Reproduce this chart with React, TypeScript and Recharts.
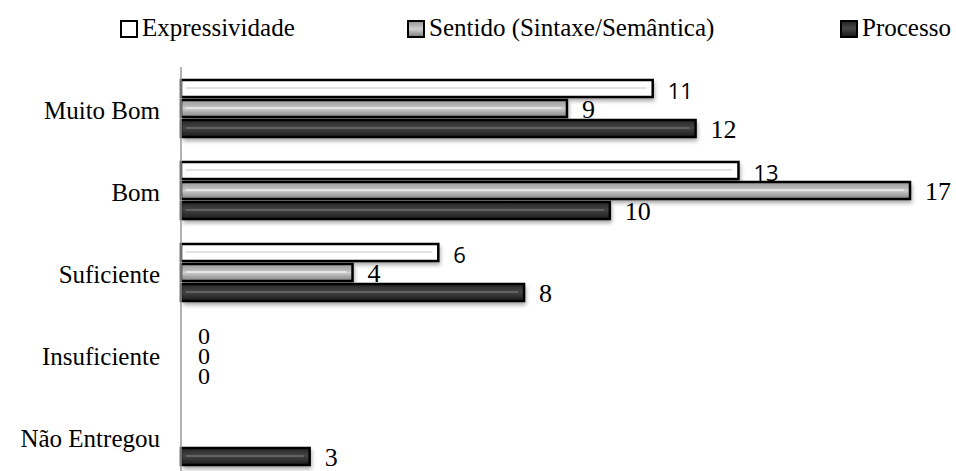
import React from 'react';
import { BarChart, Bar, XAxis, YAxis, Legend, LabelList } from 'recharts';

const categories = ['Muito Bom', 'Bom', 'Suficiente', 'Insuficiente', 'Não Entregou'];
const expressividade: (number | null)[] = [11, 13, 6, 0, null];
const sentido: (number | null)[] = [9, 17, 4, 0, null];
const processo: (number | null)[] = [12, 10, 8, 0, 3];
const seriesNames = ['Expressividade', 'Sentido (Sintaxe/Semântica)', 'Processo'];
const xDomain = [0, 17];

const data = categories.map((name, i) => ({
  name,
  exp: expressividade[i],
  sen: sentido[i],
  pro: processo[i],
}));

const SERIF = '"Liberation Serif", "Times New Roman", serif';
const SANS = '"Open Sans", "Liberation Sans", sans-serif';

type Kind = 'exp' | 'sen' | 'pro';

const Defs = () => (
  <defs>
    <linearGradient id="gSen" x1="0" y1="0" x2="0" y2="1">
      <stop offset="0%" stopColor="#9a9a9a" />
      <stop offset="35%" stopColor="#b8b8b8" />
      <stop offset="50%" stopColor="#cfcfcf" />
      <stop offset="70%" stopColor="#adadad" />
      <stop offset="100%" stopColor="#858585" />
    </linearGradient>
    <linearGradient id="gPro" x1="0" y1="0" x2="0" y2="1">
      <stop offset="0%" stopColor="#262626" />
      <stop offset="45%" stopColor="#444444" />
      <stop offset="100%" stopColor="#1c1c1c" />
    </linearGradient>
    <filter id="fShadow" x="-10%" y="-50%" width="130%" height="250%">
      <feGaussianBlur stdDeviation="2" />
    </filter>
  </defs>
);

const fills: Record<Kind, string> = { exp: '#ffffff', sen: 'url(#gSen)', pro: 'url(#gPro)' };
const lines: Record<Kind, string> = { exp: '#d9d9d9', sen: '#eeeeee', pro: '#6e6e6e' };

const makeShape = (kind: Kind) => (props: any) => {
  const { x, y, width, height } = props;
  if (!width || width <= 0) return <g />;
  return (
    <g>
      <Defs />
      <rect x={x + 2} y={y + 3} width={width} height={height} fill="rgba(0,0,0,0.35)" filter="url(#fShadow)" />
      <rect x={x} y={y + 1} width={width} height={height - 2} fill={fills[kind]} stroke="#000" strokeWidth={2.5} />
      <line
        x1={x + 5}
        x2={x + width - 6}
        y1={y + height * 0.47}
        y2={y + height * 0.47}
        stroke={lines[kind]}
        strokeWidth={1.5}
      />
    </g>
  );
};

const makeLabel = (kind: Kind) => (props: any) => {
  const { x, y, width, height, value } = props;
  if (value === null || value === undefined) return null;
  const isZero = value === 0;
  const fam = kind === 'exp' && !isZero ? SANS : SERIF;
  const size = isZero ? 24 : kind === 'exp' ? 22 : 26;
  return (
    <text
      x={x + width + (isZero ? 17 : 15)}
      y={y + height / 2 + 1}
      dominantBaseline="central"
      fontFamily={fam}
      fontSize={size}
      fill="#000"
    >
      {value}
    </text>
  );
};

const CatTick = (props: any) => {
  const { y, payload } = props;
  return (
    <text x={160} y={y + 2} textAnchor="end" dominantBaseline="central" fontFamily={SERIF} fontSize={25} fill="#000">
      {payload.value}
    </text>
  );
};

const legendItems: { kind: Kind; sq: number; name: string }[] = [
  { kind: 'exp', sq: 120, name: seriesNames[0] },
  { kind: 'sen', sq: 407, name: seriesNames[1] },
  { kind: 'pro', sq: 840, name: seriesNames[2] },
];

const sqBg: Record<Kind, string> = {
  exp: '#ffffff',
  sen: 'linear-gradient(#9a9a9a, #cfcfcf 50%, #858585)',
  pro: 'linear-gradient(#262626, #484848 45%, #1c1c1c)',
};

const LegendContent = () => (
  <div style={{ position: 'relative', width: 956, height: 67 }}>
    {legendItems.map((it) => (
      <React.Fragment key={it.kind}>
        <div
          style={{
            position: 'absolute',
            left: it.sq,
            top: 20,
            width: 14,
            height: 14,
            border: '2px solid #000',
            background: sqBg[it.kind],
          }}
        />
        <div
          style={{
            position: 'absolute',
            left: it.sq + 22,
            top: 13,
            fontFamily: SERIF,
            fontSize: 25,
            lineHeight: '30px',
            whiteSpace: 'nowrap',
            color: '#000',
          }}
        >
          {it.name}
        </div>
      </React.Fragment>
    ))}
  </div>
);

export default function App() {
  return (
    <div style={{ position: 'absolute', left: 0, top: 0, background: '#fff' }}>
      <BarChart
        width={956}
        height={478}
        data={data}
        layout="vertical"
        margin={{ top: 0, right: 46, bottom: 1, left: 0 }}
        barSize={19}
        barGap={1}
      >
        <Legend
          verticalAlign="top"
          content={<LegendContent />}
          wrapperStyle={{ left: 0, top: 0, width: 956, height: 67 }}
        />
        <XAxis type="number" domain={xDomain} hide />
        <YAxis
          type="category"
          dataKey="name"
          width={181}
          axisLine={{ stroke: '#999', strokeWidth: 1.5 }}
          tickLine={false}
          tick={<CatTick />}
        />
        <Bar dataKey="exp" name={seriesNames[0]} isAnimationActive={false} shape={makeShape('exp')}>
          <LabelList dataKey="exp" content={makeLabel('exp')} />
        </Bar>
        <Bar dataKey="sen" name={seriesNames[1]} isAnimationActive={false} shape={makeShape('sen')}>
          <LabelList dataKey="sen" content={makeLabel('sen')} />
        </Bar>
        <Bar dataKey="pro" name={seriesNames[2]} isAnimationActive={false} shape={makeShape('pro')}>
          <LabelList dataKey="pro" content={makeLabel('pro')} />
        </Bar>
      </BarChart>
    </div>
  );
}
